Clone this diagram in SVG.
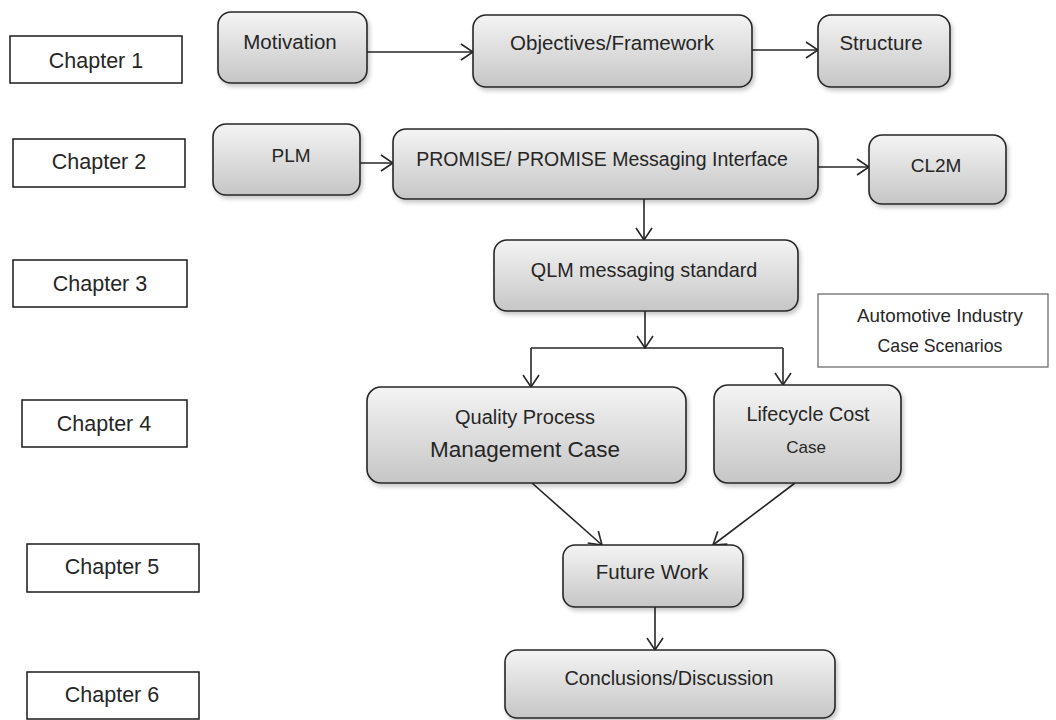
<svg xmlns="http://www.w3.org/2000/svg" width="1056" height="720" viewBox="0 0 1056 720">
<style>
.chap{fill:#ffffff;stroke:#1a1a1a;stroke-width:1.5}
.node{fill:url(#g);stroke:#262626;stroke-width:1.6;filter:url(#sh)}
.note{fill:#ffffff;stroke:#6e6e6e;stroke-width:1.3}
text{font-family:"Liberation Sans",Arial,sans-serif;font-size:20.5px;fill:#262626;text-anchor:middle}
.ct{font-size:21.5px}
.conn{stroke:#262626;stroke-width:1.6;fill:none}
.arr{marker-end:url(#ah)}
</style>
<defs>
<linearGradient id="g" x1="0" y1="0" x2="0" y2="1">
<stop offset="0" stop-color="#f4f4f4"/>
<stop offset="1" stop-color="#c6c6c6"/>
</linearGradient>
<filter id="sh" x="-10%" y="-10%" width="125%" height="130%">
<feDropShadow dx="2" dy="3" stdDeviation="2" flood-color="#000" flood-opacity="0.22"/>
</filter>
<marker id="ah" viewBox="0 0 14 18" refX="13" refY="9" markerWidth="14" markerHeight="18" markerUnits="userSpaceOnUse" orient="auto">
<path d="M1,1 L13,9 L1,17" fill="none" stroke="#262626" stroke-width="1.6"/>
</marker>
</defs>
<rect width="1056" height="720" fill="#ffffff"/>

<g id="chapter1"><rect class="chap" x="10" y="36" width="172" height="47"/><text class="ct" x="96" y="68">Chapter 1</text></g>
<g id="chapter2"><rect class="chap" x="13" y="139" width="172" height="48"/><text class="ct" x="99" y="169">Chapter 2</text></g>
<g id="chapter3"><rect class="chap" x="13" y="260" width="174" height="47"/><text class="ct" x="100" y="291">Chapter 3</text></g>
<g id="chapter4"><rect class="chap" x="22" y="400" width="165" height="47"/><text class="ct" x="104" y="431">Chapter 4</text></g>
<g id="chapter5"><rect class="chap" x="27" y="544" width="172" height="48"/><text class="ct" x="112" y="574">Chapter 5</text></g>
<g id="chapter6"><rect class="chap" x="27" y="672" width="172" height="47"/><text class="ct" x="112" y="702">Chapter 6</text></g>

<g id="connectors">
<line class="conn arr" x1="367" y1="52" x2="473" y2="52"/>
<line class="conn arr" x1="752" y1="50" x2="818" y2="50"/>
<line class="conn arr" x1="360" y1="163" x2="393" y2="163"/>
<line class="conn arr" x1="818" y1="167" x2="869" y2="167"/>
<line class="conn arr" x1="644" y1="199" x2="644" y2="240"/>
<line class="conn arr" x1="645" y1="311" x2="645" y2="348"/>
<line class="conn" x1="531" y1="348" x2="783" y2="348"/>
<line class="conn arr" x1="531" y1="348" x2="531" y2="387"/>
<line class="conn arr" x1="783" y1="348" x2="783" y2="385"/>
<line class="conn arr" x1="532" y1="483" x2="602" y2="545"/>
<line class="conn arr" x1="795" y1="483" x2="713" y2="545"/>
<line class="conn arr" x1="655" y1="607" x2="655" y2="650"/>
</g>

<g id="motivation"><rect class="node" x="218" y="12" width="149" height="71" rx="13"/><text x="290" y="49">Motivation</text></g>
<g id="objectives"><rect class="node" x="473" y="15" width="279" height="72" rx="13"/><text x="612" y="50">Objectives/Framework</text></g>
<g id="structure"><rect class="node" x="818" y="15" width="132" height="72" rx="13"/><text x="881" y="50">Structure</text></g>
<g id="plm"><rect class="node" x="213" y="124" width="147" height="71" rx="13"/><text x="291" y="162" style="font-size:19px">PLM</text></g>
<g id="promise"><rect class="node" x="393" y="129" width="425" height="70" rx="13"/><text x="602" y="166" style="font-size:19.5px">PROMISE/ PROMISE Messaging Interface</text></g>
<g id="cl2m"><rect class="node" x="869" y="135" width="137" height="69" rx="13"/><text x="936" y="172" style="font-size:19px">CL2M</text></g>
<g id="qlm"><rect class="node" x="494" y="240" width="304" height="71" rx="13"/><text x="644" y="277" style="font-size:19.8px">QLM messaging standard</text></g>
<g id="automotive"><rect class="note" x="818" y="294" width="230" height="73"/><text x="940" y="322" style="font-size:18.8px">Automotive Industry</text><text x="940" y="352" style="font-size:17.7px">Case Scenarios</text></g>
<g id="quality"><rect class="node" x="367" y="387" width="319" height="96" rx="14"/><text x="525" y="424" style="font-size:20px">Quality Process</text><text x="525" y="457" style="font-size:22.5px">Management Case</text></g>
<g id="lifecycle"><rect class="node" x="714" y="385" width="187" height="98" rx="14"/><text x="808" y="421" style="font-size:19.8px">Lifecycle Cost</text><text x="806" y="453" style="font-size:17px">Case</text></g>
<g id="future"><rect class="node" x="563" y="545" width="180" height="62" rx="12"/><text x="652" y="579">Future Work</text></g>
<g id="conclusions"><rect class="node" x="505" y="650" width="330" height="68" rx="12"/><text x="669" y="685" style="font-size:19.8px">Conclusions/Discussion</text></g>
</svg>
